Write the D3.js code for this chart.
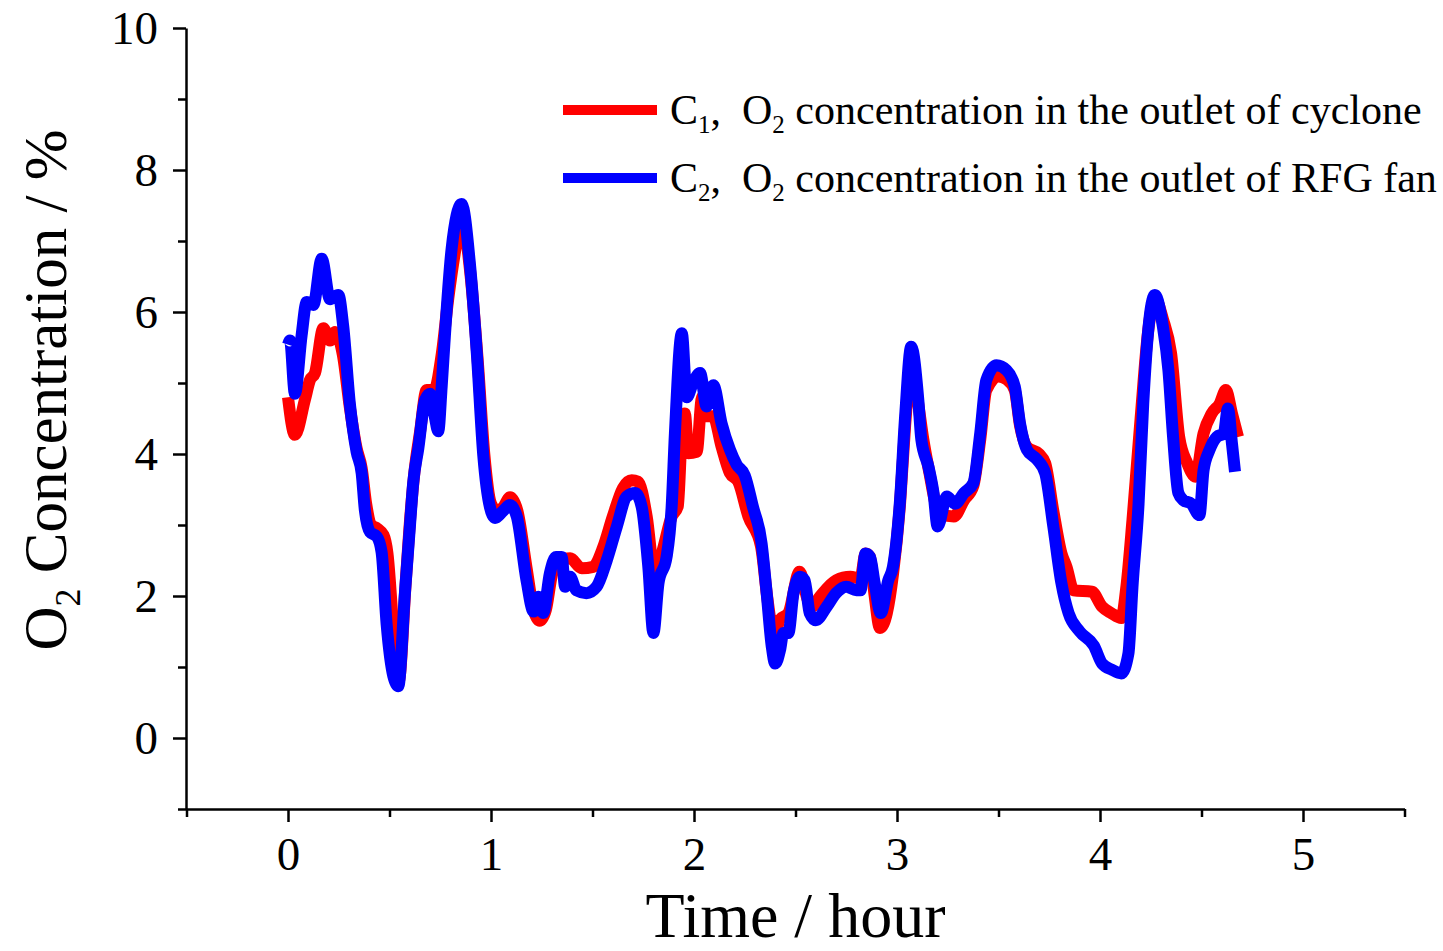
<!DOCTYPE html>
<html><head><meta charset="utf-8">
<script src="https://cdn.jsdelivr.net/npm/d3@7"></script>
<style>
body{margin:0;background:#fff}
svg{display:block}
text{font-family:"Liberation Serif","Times New Roman",serif;fill:#000}
</style>
</head><body>
<svg id="chart" width="1443" height="951"></svg>
<script>
// ---- data (time in hours, O2 concentration in %) ----
const c1Time   = [0,0.034,0.083,0.108,0.133,0.174,0.207,0.232,0.27,0.305,0.338,0.363,0.385,0.41,0.44,0.47,0.49,0.52,0.545,0.58,0.605,0.625,0.65,0.683,0.72,0.757,0.79,0.82,0.855,0.9,0.935,0.967,1.0,1.03,1.06,1.094,1.13,1.175,1.21,1.24,1.27,1.3,1.33,1.39,1.447,1.503,1.553,1.6,1.65,1.693,1.725,1.767,1.808,1.85,1.89,1.92,1.94,1.955,1.972,2.013,2.04,2.06,2.095,2.136,2.177,2.218,2.268,2.33,2.36,2.38,2.4,2.42,2.465,2.52,2.56,2.58,2.62,2.7,2.77,2.82,2.845,2.867,2.89,2.916,2.95,2.98,3.015,3.04,3.07,3.105,3.13,3.16,3.19,3.22,3.28,3.33,3.376,3.41,3.44,3.5,3.54,3.58,3.606,3.64,3.7,3.73,3.77,3.81,3.835,3.87,3.96,4.01,4.055,4.105,4.13,4.16,4.2,4.238,4.27,4.31,4.35,4.39,4.43,4.47,4.51,4.55,4.59,4.62,4.65,4.68];
const c1Values = [4.8,4.27,4.76,5.04,5.14,5.77,5.6,5.72,5.4,4.65,4.08,3.8,3.3,3.0,2.95,2.86,2.6,1.5,0.8,2.2,3.2,3.8,4.3,4.9,4.9,5.4,6.2,6.8,7.3,6.5,5.3,4.0,3.3,3.2,3.25,3.39,3.2,2.4,1.8,1.65,1.8,2.3,2.5,2.53,2.39,2.41,2.69,3.12,3.52,3.63,3.61,3.12,2.27,2.69,3.12,3.26,4.3,4.57,4.01,4.03,4.8,4.53,4.53,4.1,3.73,3.61,3.12,2.7,2.0,1.6,1.43,1.66,1.76,2.34,1.95,1.85,1.99,2.22,2.27,2.25,2.6,2.55,2.0,1.55,1.76,2.3,3.3,4.4,5.3,4.7,4.2,3.73,3.3,3.15,3.12,3.35,3.55,4.2,4.9,5.09,5.05,4.9,4.4,4.1,4.0,3.87,3.2,2.6,2.41,2.08,2.06,1.85,1.76,1.69,2.13,3.07,4.5,5.75,6.2,5.9,5.42,4.24,3.87,3.68,4.29,4.57,4.71,4.9,4.57,4.24];

const c2Time   = [0,0.01,0.034,0.067,0.092,0.125,0.166,0.207,0.248,0.272,0.305,0.338,0.363,0.379,0.404,0.437,0.461,0.486,0.519,0.543,0.576,0.601,0.617,0.642,0.675,0.7,0.724,0.74,0.757,0.773,0.806,0.855,0.897,0.93,0.962,0.995,1.02,1.06,1.094,1.127,1.175,1.21,1.233,1.257,1.29,1.32,1.348,1.365,1.39,1.42,1.47,1.52,1.57,1.62,1.668,1.71,1.742,1.775,1.8,1.825,1.865,1.89,1.906,1.94,1.964,1.995,2.03,2.062,2.095,2.136,2.177,2.21,2.25,2.29,2.333,2.358,2.383,2.4,2.424,2.44,2.465,2.49,2.522,2.545,2.57,2.6,2.654,2.7,2.75,2.8,2.82,2.845,2.867,2.89,2.92,2.957,2.98,3.015,3.04,3.07,3.105,3.12,3.155,3.18,3.2,3.245,3.286,3.33,3.376,3.41,3.44,3.49,3.54,3.58,3.606,3.64,3.69,3.73,3.77,3.81,3.845,3.9,3.97,4.01,4.06,4.105,4.14,4.16,4.19,4.213,4.238,4.27,4.31,4.337,4.36,4.386,4.41,4.45,4.49,4.51,4.54,4.575,4.61,4.63,4.65,4.665];
const c2Values = [5.54,5.6,4.85,5.67,6.14,6.1,6.75,6.18,6.24,5.8,4.7,4.03,3.73,3.2,2.9,2.84,2.62,1.6,0.87,0.73,2.04,3.0,3.6,4.08,4.76,4.85,4.51,4.32,4.95,5.67,6.89,7.52,6.65,5.43,3.98,3.25,3.1,3.2,3.28,3.12,2.22,1.78,1.99,1.76,2.32,2.55,2.55,2.13,2.27,2.08,2.04,2.13,2.5,2.98,3.4,3.45,3.26,2.41,1.48,2.18,2.55,3.26,4.29,5.7,4.8,5.0,5.14,4.67,4.97,4.43,4.06,3.85,3.7,3.26,2.74,2.04,1.29,1.05,1.24,1.48,1.48,2.04,2.27,2.22,1.76,1.66,1.85,2.04,2.13,2.08,2.08,2.6,2.55,2.18,1.76,2.22,2.41,3.35,4.53,5.51,4.76,4.2,3.82,3.45,2.98,3.4,3.3,3.45,3.59,4.29,5.04,5.25,5.18,4.95,4.43,4.06,3.92,3.73,2.98,2.18,1.76,1.5,1.3,1.05,0.96,0.91,1.19,2.13,3.3,4.71,5.75,6.24,5.79,5.18,4.24,3.45,3.35,3.3,3.14,3.77,4.06,4.24,4.29,4.64,4.15,3.75];

const xMajorTicks = [0,1,2,3,4,5];
const xMinorTicks = [-0.5,0.5,1.5,2.5,3.5,4.5,5.5];
const yMajorTicks = [0,2,4,6,8,10];
const yMinorTicks = [-1,1,3,5,7,9];
const seriesNames = ["C1","C2"];
const seriesSubs = ["1","2"];
const seriesTexts = ["concentration in the outlet of cyclone","concentration in the outlet of RFG fan"];
const seriesColors = ["#ff0000","#0000ff"];

const svg = d3.select("#chart");
const x = d3.scaleLinear().domain([-0.5,5.5]).range([186.5,1404.5]);
const y = d3.scaleLinear().domain([-1,10]).range([809,28]);

// lines
const line = d3.line().x(d=>x(d[0])).y(d=>y(d[1])).curve(d3.curveMonotoneX);
const series = [d3.zip(c1Time,c1Values), d3.zip(c2Time,c2Values)];
series.forEach((s,i)=>{
  svg.append("path").datum(s).attr("d",line)
    .attr("fill","none").attr("stroke",seriesColors[i]).attr("stroke-width",12)
    .attr("stroke-linejoin","round").attr("stroke-linecap","butt");
});

// axes
function styleAxis(g){
  g.select(".domain").attr("stroke","#000").attr("stroke-width",2.5);
  g.selectAll(".tick line").attr("stroke","#000").attr("stroke-width",2.5);
}
const gx = svg.append("g").attr("transform","translate(0,809)")
  .call(d3.axisBottom(x).tickValues(xMajorTicks).tickSize(13).tickSizeOuter(0).tickPadding(15).tickFormat(d3.format("d")));
gx.selectAll("text").attr("font-size",47).attr("font-family","Liberation Serif");
styleAxis(gx);
const gxm = svg.append("g").attr("transform","translate(0,809)")
  .call(d3.axisBottom(x).tickValues(xMinorTicks).tickSize(8).tickSizeOuter(0).tickFormat(""));
styleAxis(gxm); gxm.select(".domain").remove();

const gy = svg.append("g").attr("transform","translate(186,0)")
  .call(d3.axisLeft(y).tickValues(yMajorTicks).tickSize(13).tickSizeOuter(0).tickPadding(15).tickFormat(d3.format("d")));
gy.selectAll("text").attr("font-size",47).attr("font-family","Liberation Serif");
styleAxis(gy);
const gym = svg.append("g").attr("transform","translate(186,0)")
  .call(d3.axisLeft(y).tickValues(yMinorTicks).tickSize(8).tickSizeOuter(0).tickFormat(""));
styleAxis(gym); gym.select(".domain").remove();

// axis titles
svg.append("text").attr("x",x(2.5)).attr("y",937).attr("text-anchor","middle")
  .attr("font-size",64).text("Time / hour");
const yt = svg.append("text").attr("transform","translate(66,390) rotate(-90)")
  .attr("text-anchor","middle").attr("font-size",61);
yt.append("tspan").text("O");
yt.append("tspan").attr("font-size",36).attr("dy",14).text("2");
yt.append("tspan").attr("dy",-14).text(" Concentration / %");

// legend
const legendY = [110,178];
seriesNames.forEach((n,i)=>{
  svg.append("line").attr("x1",563).attr("x2",657).attr("y1",legendY[i]).attr("y2",legendY[i])
    .attr("stroke",seriesColors[i]).attr("stroke-width",10);
  const t = svg.append("text").attr("x",670).attr("y",legendY[i]+14)
    .attr("font-size",42).style("white-space","pre");
  t.append("tspan").text("C");
  t.append("tspan").attr("font-size",25).attr("dy",9).text(seriesSubs[i]);
  t.append("tspan").attr("dy",-9).text(",  O");
  t.append("tspan").attr("font-size",25).attr("dy",9).text("2");
  t.append("tspan").attr("dy",-9).text(" " + seriesTexts[i]);
});
</script>
</body></html>
